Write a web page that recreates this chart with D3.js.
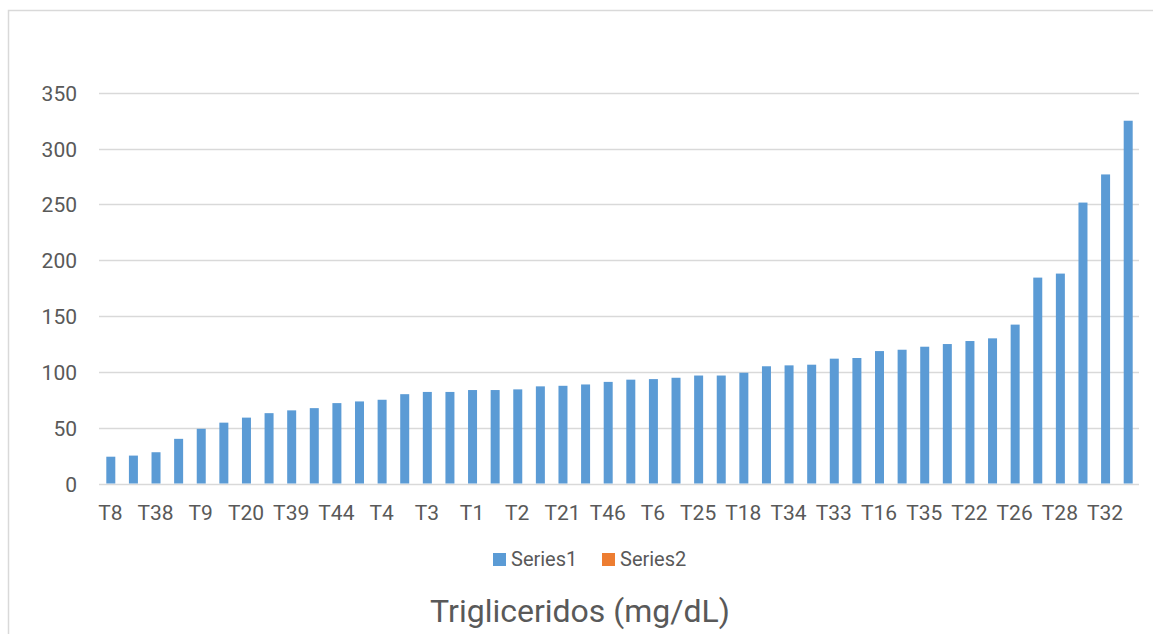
<!DOCTYPE html>
<html><head><meta charset="utf-8">
<script src="https://cdn.jsdelivr.net/npm/d3@7"></script>
<style>body{margin:0;background:#fff}svg{display:block}</style>
</head><body>
<script>
const categories = ["T8","T5","T38","T7","T9","T10","T20","T11","T39","T12","T44","T13","T4","T14","T3","T15","T1","T17","T2","T19","T21","T23","T46","T24","T6","T27","T25","T29","T18","T30","T34","T31","T33","T36","T16","T37","T35","T40","T22","T41","T26","T42","T28","T43","T32","T45"];
const series1 = [24,25,28,40,49,54.5,59,63,65.5,67.5,72,73.5,75,80,82,82,83.7,83.7,84.3,87,87.5,88.7,91,93,93.5,94.7,96.7,96.7,99.2,105,105.8,106.4,111.8,112.4,118.6,119.8,122.5,124.9,127.6,130,142.3,184.4,188,251.6,276.8,324.9];
const series2 = categories.map(() => null);
const yTicks = [0,50,100,150,200,250,300,350];
const seriesNames = ["Series1","Series2"];
const colors = ["#5B9BD5","#ED7D31"];
const title = "Trigliceridos (mg/dL)";

const W = 1153, H = 634;
const svg = d3.select("body").append("svg").attr("width", W).attr("height", H);
const font = "Roboto, 'Liberation Sans', sans-serif";

// chart border
svg.append("path").attr("d", `M8.5,${H} V10.5 H${W}`).attr("fill","none").attr("stroke","#D9D9D9").attr("stroke-width",1.5);

const plot = {l:99, r:1139, t:92.7, b:483.5};
const x = d3.scaleBand().domain(categories).range([plot.l, plot.r]);
const y = d3.scaleLinear().domain([0,350]).range([plot.b, plot.t]);

// gridlines
svg.append("g").selectAll("line").data(yTicks).join("line")
  .attr("x1", plot.l).attr("x2", plot.r)
  .attr("y1", d => Math.round(y(d))+0.5).attr("y2", d => Math.round(y(d))+0.5)
  .attr("stroke", "#D9D9D9").attr("stroke-width", 1.5);

// y axis labels
const yAxis = d3.axisLeft(y).tickValues(yTicks).tickSize(0).tickPadding(0);
const gy = svg.append("g").attr("transform", `translate(77,0)`).call(yAxis);
gy.select(".domain").remove();
gy.selectAll("text").attr("font-family", font).attr("font-size", 21).attr("fill", "#595959").attr("dy","0.36em");

// x axis labels (every other)
const xAxis = d3.axisBottom(x).tickSize(0).tickPadding(0)
  .tickValues(categories.filter((d,i) => i % 2 === 0));
const gx = svg.append("g").attr("transform", `translate(0,${plot.b})`).call(xAxis);
gx.select(".domain").remove();
gx.selectAll("text").attr("font-family", font).attr("font-size", 21).attr("fill", "#595959").attr("dy","0").attr("y", 36.5);

// bars
const bw = 9;
svg.append("g").selectAll("rect").data(series1).join("rect")
  .attr("x", (d,i) => x(categories[i]) + x.bandwidth()/2 - bw/2 + 0.5)
  .attr("width", bw)
  .attr("y", d => y(d))
  .attr("height", d => y(0) - y(d))
  .attr("fill", colors[0]);

// legend
const legend = svg.append("g");
const lx = [493, 602];
seriesNames.forEach((n,i) => {
  legend.append("rect").attr("x", lx[i]).attr("y", 553).attr("width", 13).attr("height", 13).attr("fill", colors[i]);
  legend.append("text").attr("x", lx[i]+18).attr("y", 566).text(n)
    .attr("font-family", font).attr("font-size", 20).attr("fill", "#595959");
});

// title
svg.append("text").attr("x", 580).attr("y", 622).attr("text-anchor","middle").text(title)
  .attr("font-family", font).attr("font-size", 32).attr("fill", "#595959");
</script>
</body></html>
